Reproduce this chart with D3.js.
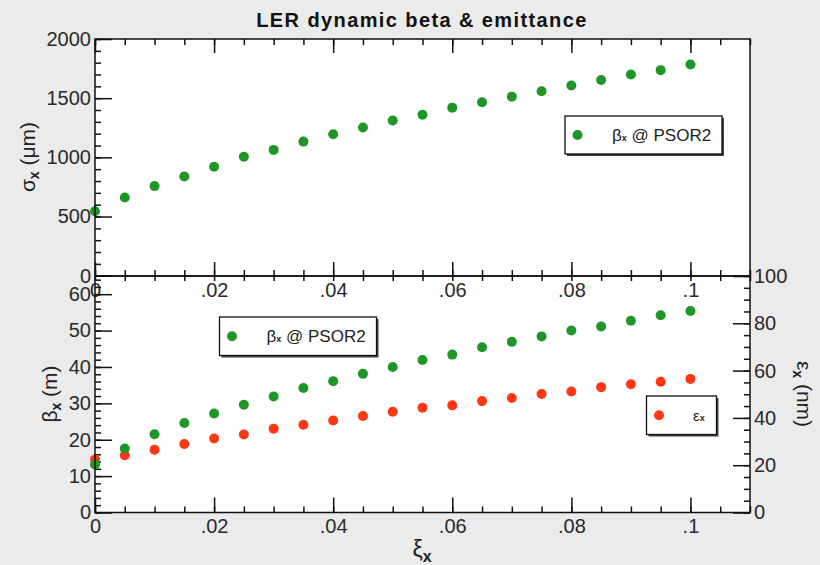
<!DOCTYPE html>
<html>
<head>
<meta charset="utf-8">
<script src="https://cdn.jsdelivr.net/npm/d3@7"></script>
<style>
  html, body { margin: 0; padding: 0; background: #ebebeb; }
  svg { display: block; }
  .tick text { font-family: "Liberation Sans", Arial, sans-serif; font-size: 20px; fill: #2a2a2a; }
  .domain { display: none; }
  .tick line { stroke: #111; stroke-width: 1.5; }
</style>
</head>
<body>
<svg id="chart" width="820" height="565"></svg>
<script>
// Beam-beam parameter scan (horizontal)
const xiX = [0, 0.005, 0.01, 0.015, 0.02, 0.025, 0.03, 0.035, 0.04, 0.045, 0.05,
             0.055, 0.06, 0.065, 0.07, 0.075, 0.08, 0.085, 0.09, 0.095, 0.1];
// Horizontal beam size at PSOR2 (um)
const sigmaX = [545, 660, 757, 838, 920, 1005, 1063, 1133, 1195, 1252, 1312,
                1360, 1420, 1465, 1513, 1558, 1607, 1654, 1700, 1737, 1785];
// Dynamic beta at PSOR2 (m)
const betaX = [13.2, 17.6, 21.5, 24.6, 27.2, 29.6, 31.9, 34.2, 36.1, 38.1, 40.0,
               41.9, 43.4, 45.4, 46.9, 48.4, 50.0, 51.1, 52.7, 54.2, 55.4];
// Dynamic emittance (nm)
const emitX = [22.4, 24.2, 26.5, 29.0, 31.3, 33.0, 35.4, 37.1, 38.9, 40.8, 42.6,
               44.3, 45.3, 47.1, 48.4, 50.1, 51.2, 53.0, 54.2, 55.3, 56.5];

const xTicks = [0, 0.02, 0.04, 0.06, 0.08, 0.1];
const xTickLabels = ["0", ".02", ".04", ".06", ".08", ".1"];
const sigmaTicks = [0, 500, 1000, 1500, 2000];
const betaTicks = [0, 10, 20, 30, 40, 50, 60];
const emitTicks = [0, 20, 40, 60, 80, 100];

const GREEN = "#1f9628";
const RED = "#ff3714";

const svg = d3.select("#chart");
const left = 95, right = 750;
const topY0 = 39, topY1 = 275.7;     // upper panel
const botY0 = 276, botY1 = 512.5;    // lower panel

const x = d3.scaleLinear().domain([0, 0.11]).range([left, right]);
const ySigma = d3.scaleLinear().domain([0, 2000]).range([topY1, topY0]);
const yBeta = d3.scaleLinear().domain([0, 65]).range([botY1, botY0]);
const yEmit = d3.scaleLinear().domain([0, 100]).range([botY1, botY0]);

const minorX = d3.range(0, 0.1101, 0.005);
const fmtX = d => xTickLabels[xTicks.findIndex(t => Math.abs(t - d) < 1e-9)];

// panel backgrounds
svg.append("rect").attr("x", left).attr("y", topY0).attr("width", right - left).attr("height", botY1 - topY0).attr("fill", "#fff");

// ---------- upper panel ----------
const g1 = svg.append("g");
// top edge ticks
g1.append("g").attr("transform", `translate(0,${topY0})`)
  .call(d3.axisTop(x).tickValues(minorX).tickSize(-6).tickFormat(""));
g1.append("g").attr("transform", `translate(0,${topY0})`)
  .call(d3.axisTop(x).tickValues(xTicks).tickSize(-14).tickFormat(""));
// bottom edge ticks (labels sit below the shared border)
g1.append("g").attr("transform", `translate(0,${botY0})`)
  .call(d3.axisBottom(x).tickValues(minorX).tickSize(-6).tickFormat(""));
g1.append("g").attr("transform", `translate(0,${botY0})`)
  .call(d3.axisBottom(x).tickValues(xTicks).tickSize(-14).tickPadding(7).tickFormat(fmtX));
// left axis
g1.append("g").attr("transform", `translate(${left},0)`)
  .call(d3.axisLeft(ySigma).tickValues(d3.range(0, 2001, 100)).tickSize(-6).tickFormat(""));
g1.append("g").attr("transform", `translate(${left},0)`)
  .call(d3.axisLeft(ySigma).tickValues(sigmaTicks).tickSize(-17).tickPadding(4).tickFormat(d3.format("d")));

g1.append("g").selectAll("circle").data(xiX).join("circle")
  .attr("cx", (d) => x(d)).attr("cy", (d, i) => ySigma(sigmaX[i])).attr("r", 5).attr("fill", GREEN);

// ---------- lower panel ----------
const g2 = svg.append("g");
g2.append("g").attr("transform", `translate(0,${botY0})`)
  .call(d3.axisTop(x).tickValues(minorX).tickSize(-5).tickFormat(""));
g2.append("g").attr("transform", `translate(0,${botY1})`)
  .call(d3.axisBottom(x).tickValues(minorX).tickSize(-6).tickFormat(""));
g2.append("g").attr("transform", `translate(0,${botY1})`)
  .call(d3.axisBottom(x).tickValues(xTicks).tickSize(-15).tickPadding(6).tickFormat(fmtX));
g2.append("g").attr("transform", `translate(${left},0)`)
  .call(d3.axisLeft(yBeta).tickValues(d3.range(0, 65, 2)).tickSize(-6).tickFormat(""));
g2.append("g").attr("transform", `translate(${left},0)`)
  .call(d3.axisLeft(yBeta).tickValues(betaTicks).tickSize(-17).tickPadding(4).tickFormat(d3.format("d")));
g2.append("g").attr("transform", `translate(${right},0)`)
  .call(d3.axisRight(yEmit).tickValues(d3.range(0, 101, 5)).tickSize(-6).tickFormat(""));
g2.append("g").attr("transform", `translate(${right},0)`)
  .call(d3.axisRight(yEmit).tickValues(emitTicks).tickSize(-17).tickPadding(4).tickFormat(d3.format("d")));

g2.append("g").selectAll("circle").data(xiX).join("circle")
  .attr("cx", (d) => x(d)).attr("cy", (d, i) => yEmit(emitX[i])).attr("r", 5).attr("fill", RED);
g2.append("g").selectAll("circle").data(xiX).join("circle")
  .attr("cx", (d) => x(d)).attr("cy", (d, i) => yBeta(betaX[i])).attr("r", 5).attr("fill", GREEN);

// panel frames
[[topY0, botY0], [botY0, botY1]].forEach(([a, b]) => {
  svg.append("rect").attr("x", left).attr("y", a).attr("width", right - left).attr("height", b - a)
    .attr("fill", "none").attr("stroke", "#111").attr("stroke-width", 1.5);
});

// ---------- legends ----------
function legend(x0, y0, w, h, color, textX, build) {
  const g = svg.append("g");
  g.append("rect").attr("x", x0 + 2).attr("y", y0 + 2).attr("width", w).attr("height", h).attr("fill", "#444");
  g.append("rect").attr("x", x0).attr("y", y0).attr("width", w).attr("height", h)
    .attr("fill", "#fff").attr("stroke", "#111").attr("stroke-width", 1.3);
  g.append("circle").attr("cx", x0 + 12.5).attr("cy", y0 + h / 2).attr("r", 5).attr("fill", color);
  const t = g.append("text").attr("x", textX).attr("y", y0 + h / 2 + 6)
    .attr("font-family", "Liberation Sans, Arial, sans-serif").attr("font-size", 17).attr("fill", "#222");
  build(t);
}
const betaLegend = t => {
  t.append("tspan").text("β");
  t.append("tspan").attr("font-size", 9).attr("font-weight", "bold").text("x");
  t.append("tspan").text(" @ PSOR2");
};
legend(565, 116, 157, 38, GREEN, 612, betaLegend);
legend(219.5, 317, 157, 38.5, GREEN, 266.5, betaLegend);
legend(646.5, 396, 70, 38.5, RED, 693, t => {
  t.append("tspan").attr("font-size", 15).text("ε");
  t.append("tspan").attr("font-size", 9).attr("font-weight", "bold").text("x");
});

// ---------- titles ----------
const font = "Liberation Sans, Arial, sans-serif";
svg.append("text").attr("x", 422).attr("y", 27).attr("text-anchor", "middle")
  .attr("font-family", font).attr("font-size", 20).attr("font-weight", "bold").attr("letter-spacing", 1.4)
  .attr("fill", "#111").text("LER dynamic beta & emittance");

function axisTitle(tx, ty, rot, parts) {
  const t = svg.append("text").attr("transform", `translate(${tx},${ty}) rotate(${rot})`)
    .attr("text-anchor", "middle").attr("font-family", font).attr("font-size", 21).attr("fill", "#222");
  parts.forEach(([s, sub]) => {
    const sp = t.append("tspan").text(s);
    if (sub) sp.attr("font-size", 14).attr("font-weight", "bold").attr("dy", 4);
    else sp.attr("dy", t.selectAll("tspan").size() > 1 ? -4 : 0);
  });
}
axisTitle(35, 157, -90, [["σ"], ["x", true], [" (μm)"]]);
axisTitle(57, 394, -90, [["β"], ["x", true], [" (m)"]]);
axisTitle(797, 394, 90, [["ε"], ["x", true], [" (nm)"]]);

const xl = svg.append("text").attr("x", 422).attr("y", 557).attr("text-anchor", "middle")
  .attr("font-family", font).attr("font-size", 23).attr("fill", "#222");
xl.append("tspan").text("ξ");
xl.append("tspan").attr("font-size", 16).attr("font-weight", "bold").attr("dy", 5).text("x");
</script>
</body>
</html>
